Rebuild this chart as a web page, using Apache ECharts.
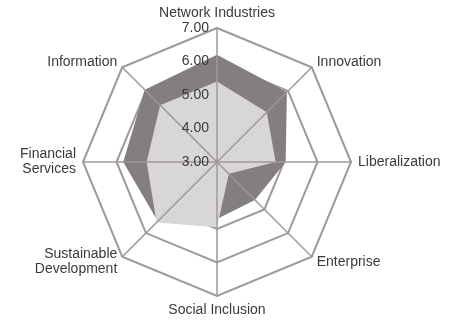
<!DOCTYPE html>
<html>
<head>
<meta charset="utf-8">
<script src="https://cdn.jsdelivr.net/npm/echarts@6/dist/echarts.min.js"></script>
<style>
  html, body { margin: 0; padding: 0; background: #fff; }
  #chart { width: 456px; height: 320px; }
</style>
</head>
<body>
<div id="chart"></div>
<script>
  // axes, counterclockwise from the top
  var axisNames = ['Network Industries', 'Information', 'Financial\nServices', 'Sustainable\nDevelopment',
                   'Social Inclusion', 'Enterprise', 'Liberalization', 'Innovation'];
  var scaleMin = 3;
  var scaleMax = 7;
  var outerScores = [6.2, 6.05, 5.8, 5.5, 4.7, 4.6, 5.05, 5.95];
  var innerScores = [5.4, 5.4, 5.1, 5.55, 4.95, 3.5, 4.75, 5.1];

  var lineGray = '#9e9899';
  var font = 'Liberation Sans';

  var indicators = axisNames.map(function (n) {
    return { name: n, min: scaleMin, max: scaleMax };
  });
  // copy used by the top radar, only the first axis gets labels
  var labelIndicators = axisNames.map(function (n, i) {
    var ind = { name: n, min: scaleMin, max: scaleMax };
    if (i === 0) ind.axisLabel = { show: true };
    return ind;
  });

  var chart = echarts.init(document.getElementById('chart'));
  chart.setOption({
    animation: false,
    radar: [
      {
        // rings underneath the filled areas
        center: [217, 162],
        radius: 134,
        shape: 'polygon',
        splitNumber: 4,
        indicator: indicators,
        axisNameGap: 7,
        axisName: { color: '#3a3a3a', fontFamily: font, fontSize: 14, lineHeight: 15 },
        axisLine: { show: false },
        axisTick: { show: false },
        axisLabel: { show: false },
        splitLine: { lineStyle: { color: lineGray, width: 2 } },
        splitArea: { show: false }
      },
      {
        // spokes and scale labels drawn over the areas
        z: 3,
        center: [217, 162],
        radius: 134,
        shape: 'polygon',
        splitNumber: 4,
        indicator: labelIndicators,
        axisName: { show: false },
        axisLine: { lineStyle: { color: lineGray, width: 1.5 } },
        axisTick: { show: false },
        axisLabel: {
          show: false,
          color: '#3a3a3a',
          fontFamily: font,
          fontSize: 14,
          formatter: function (v) { return v.toFixed(2); }
        },
        splitLine: { show: false },
        splitArea: { show: false }
      }
    ],
    series: [{
      type: 'radar',
      radarIndex: 0,
      symbol: 'none',
      data: [
        {
          name: 'Outer',
          value: outerScores,
          lineStyle: { width: 0 },
          areaStyle: { color: '#847e82', opacity: 1 }
        },
        {
          name: 'Inner',
          value: innerScores,
          lineStyle: { width: 0 },
          areaStyle: { color: '#d9d6d9', opacity: 1 }
        }
      ]
    }]
  });
</script>
</body>
</html>
